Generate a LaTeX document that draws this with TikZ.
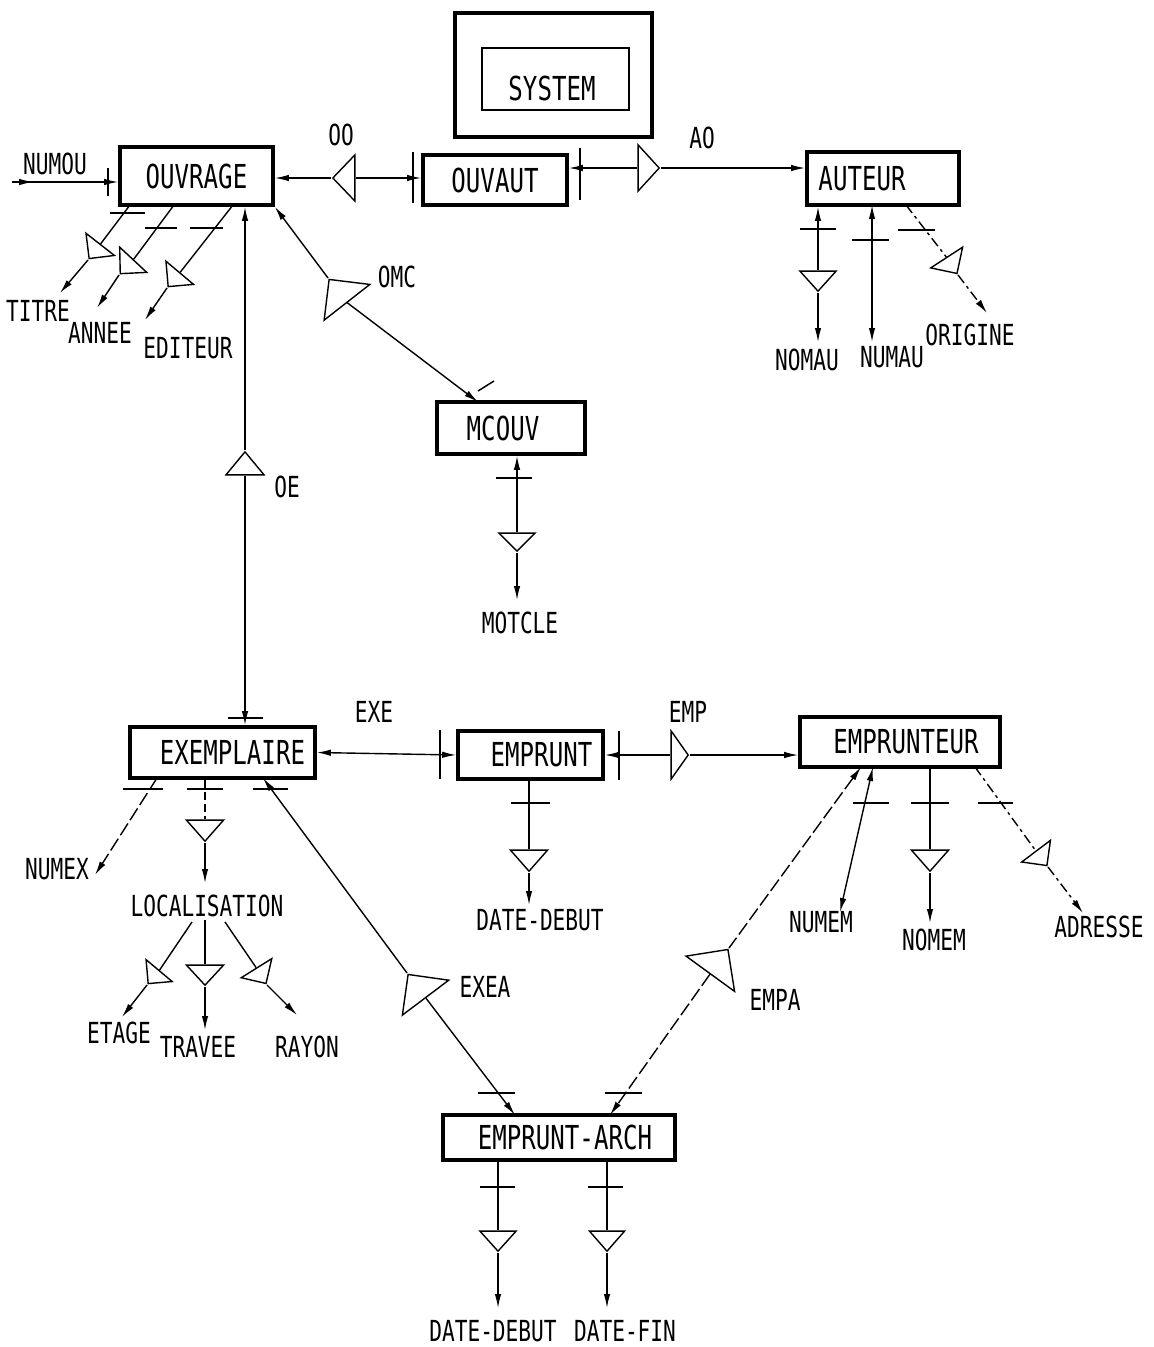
\documentclass[tikz,border=0pt]{standalone}
\usepackage{fontspec}
\newfontfamily\plotfont{DejaVu Sans Mono}[FakeStretch=0.73]
\usetikzlibrary{arrows.meta,shapes.geometric,calc,decorations.markings}
\begin{document}
\begin{tikzpicture}[x=1pt,y=-1pt,line width=1.4pt,
  >={Latex[length=14pt,width=6.5pt]},
  ent/.style={draw,line width=3.6pt,inner sep=0pt,font=\plotfont\fontsize{33}{36}\selectfont},
  lab/.style={inner sep=1pt,font=\plotfont\fontsize{29}{32}\selectfont},
  tri/.style n args={3}{draw,line width=1.4pt,isosceles triangle,isosceles triangle stretches,inner sep=0pt,minimum width=#2,minimum height=#3,rotate=#1,anchor=apex},
  bar/.style={line width=1.5pt},
  dsh/.style={dash pattern=on 14pt off 4pt},
  dshdot/.style={dash pattern=on 10pt off 4pt on 3pt off 4pt},
  middart/.style={postaction={decorate,decoration={markings,mark=at position #1 with {\arrow{>}}}}},
]
\fill[white] (0,0) rectangle (1154,1347);
\useasboundingbox (0,0) rectangle (1154,1347);

% SYSTEM
\node[draw,line width=4pt,minimum width=197,minimum height=124] (sysO) at (553.5,75) {};
\node[draw,line width=1.6pt,minimum width=147,minimum height=62] (sysI) at (555.5,79) {};
\node[inner sep=1pt,font=\plotfont\fontsize{33}{36}\selectfont] (sysT) at (552,88) {SYSTEM};

% entities
\node[ent,minimum width=153,minimum height=58] (ouvrage) at (196.5,176) {OUVRAGE};
\node[ent,minimum width=144,minimum height=50] (ouvaut) at (495,180) {OUVAUT};
\node[ent,minimum width=152,minimum height=53] (auteur) at (883,178.5) {AUTEUR\hspace*{42pt}};
\node[ent,minimum width=148,minimum height=52] (mcouv) at (511,428) {MCOUV\hspace*{16pt}};
\node[ent,minimum width=185,minimum height=51] (exemplaire) at (222.5,752.5) {\hspace*{20pt}EXEMPLAIRE};
\node[ent,minimum width=145,minimum height=48] (emprunt) at (530.5,755) {\hspace*{22pt}EMPRUNT};
\node[ent,minimum width=200,minimum height=50] (emprunteur) at (900,742) {\hspace*{12pt}EMPRUNTEUR};
\node[ent,minimum width=232,minimum height=45] (arch) at (559,1137.5) {\hspace*{12pt}EMPRUNT-ARCH};

% labels
\node[lab] (numou) at (55,164) {NUMOU};
\node[lab] (oo) at (341,135) {OO};
\node[lab] (ao) at (702,138) {AO};
\node[lab] (omc) at (397,277) {OMC};
\node[lab] (oe) at (287,487) {OE};
\node[lab] (motcle) at (520,623) {MOTCLE};
\node[lab] (titre) at (38,311) {TITRE};
\node[lab] (annee) at (100,333) {ANNEE};
\node[lab] (editeur) at (188,348) {EDITEUR};
\node[lab] (nomau) at (807,360) {NOMAU};
\node[lab] (numau) at (892,357) {NUMAU};
\node[lab] (origine) at (970,335) {ORIGINE};
\node[lab] (exe) at (374,712) {EXE};
\node[lab] (emp) at (688,712) {EMP};
\node[lab] (numex) at (57,869) {NUMEX};
\node[lab] (localisation) at (207,906) {LOCALISATION};
\node[lab] (etage) at (119,1033) {ETAGE};
\node[lab] (travee) at (198,1047) {TRAVEE};
\node[lab] (rayon) at (307,1047) {RAYON};
\node[lab] (datedebut) at (540,920) {DATE-DEBUT};
\node[lab] (numem) at (821,922) {NUMEM};
\node[lab] (nomem) at (934,940) {NOMEM};
\node[lab] (adresse) at (1099,927) {ADRESSE};
\node[lab] (exea) at (485,987) {EXEA};
\node[lab] (empa) at (775,1000) {EMPA};
\node[lab] (datedebutb) at (493,1331) {DATE-DEBUT};
\node[lab] (datefin) at (625,1331) {DATE-FIN};

% triangles
\node[tri={180}{46}{22}] (tOO) at (331,178) {};
\node[tri={0}{46}{21}] (tAO) at (661,168) {};
\node[tri={128}{58}{29}] (tOMC) at (328,278) {};
\node[tri={90}{38}{23}] (tOE) at (245,450) {};
\node[tri={0}{48}{17}] (tEMP) at (690,755) {};
\node[tri={127}{58}{29}] (tEXEA) at (407,973) {};
\node[tri={54}{60}{30}] (tEMPA) at (729,948) {};
\node[tri={232}{36}{18}] (tTITRE) at (88,260) {};
\node[tri={227}{37}{19}] (tANNEE) at (119,275) {};
\node[tri={230}{36}{18}] (tEDIT) at (167,288) {};
\node[tri={-90}{36}{20}] (tNOMAU) at (818,293) {};
\node[tri={-57}{38}{19}] (tORIG) at (958,275) {};
\node[tri={-90}{36}{18}] (tMOT) at (517,553) {};
\node[tri={-90}{37}{21}] (tLOC) at (205,843) {};
\node[tri={230}{34}{17}] (tETAGE) at (147,985) {};
\node[tri={-90}{37}{20}] (tTRAV) at (205,987) {};
\node[tri={-58}{36}{18}] (tRAYON) at (267,985) {};
\node[tri={-90}{37}{21}] (tDD) at (529,873) {};
\node[tri={-90}{37}{21}] (tNOMEM) at (930,873) {};
\node[tri={-53}{36}{18}] (tADR) at (1048,867) {};
\node[tri={-90}{36}{20}] (tDDb) at (498,1253) {};
\node[tri={-90}{35}{20}] (tDF) at (607,1253) {};

% free ends
\coordinate (numouS) at (12,182);
\coordinate (omcE) at (478,402);
\coordinate (exeaS) at (263,778);
\coordinate (exeaE) at (515,1115);
\coordinate (empaS) at (861,767);
\coordinate (empaE) at (610,1115);
\coordinate (titreS) at (130,205);
\coordinate (titreE) at (60,293);
\coordinate (anneeS) at (174,205);
\coordinate (anneeE) at (97,308);
\coordinate (editS) at (233,205);
\coordinate (editE) at (145,320);
\coordinate (nomauE) at (818,342);
\coordinate (numauS) at (872,205);
\coordinate (numauE) at (872,342);
\coordinate (origS) at (906,205);
\coordinate (origE) at (987,313);
\coordinate (motE) at (517,600);
\coordinate (numexS) at (157,778);
\coordinate (numexE) at (95,875);
\coordinate (locE) at (205,883);
\coordinate (etageS) at (192,922);
\coordinate (etageE) at (122,1017);
\coordinate (travS) at (205,920);
\coordinate (travE) at (205,1030);
\coordinate (rayS) at (225,922);
\coordinate (rayE) at (297,1015);
\coordinate (ddE) at (529,905);
\coordinate (numemS) at (873,767);
\coordinate (numemE) at (840,912);
\coordinate (nomemE) at (930,923);
\coordinate (adrS) at (975,767);
\coordinate (adrE) at (1083,913);
\coordinate (ddbE) at (498,1308);
\coordinate (dfE) at (607,1308);

% relationship connectors
\draw[->,middart=0.2] (numouS) -- (numouS -| ouvrage.west);
\draw[bar] (108,168) -- (108,196);

\draw[<-] (ouvrage.east |- tOO.apex) -- (tOO.apex);
\draw[->] (tOO.lower side) -- (tOO.lower side -| ouvaut.west);
\draw[bar] (413,152) -- (413,203);

\draw[<-] (tAO.lower side -| ouvaut.east) -- (tAO.lower side);
\draw[->] (tAO.apex) -- (tAO.apex -| auteur.west);
\draw[bar] (580,148) -- (580,200);

\draw[<-] (ouvrage.south east) -- (tOMC.apex);
\draw[->] (tOMC.lower side) -- (omcE);
\draw[bar] (478,391) -- (494,381);

\draw[<-] (tOE.apex |- ouvrage.south) -- (tOE.apex);
\draw[->] (tOE.lower side) -- (tOE.lower side |- exemplaire.north);
\draw[bar] (228,718) -- (263,718);

\draw[<->] (exemplaire.east) -- (emprunt.west);
\draw[bar] (440,730) -- (440,779);

\draw[<-] (emprunt.east |- tEMP.lower side) -- (tEMP.lower side);
\draw[->] (tEMP.apex) -- (tEMP.apex -| emprunteur.west);
\draw[bar] (619,731) -- (619,780);

\draw[<-] (exeaS) -- (tEXEA.apex);
\draw[->] (tEXEA.lower side) -- (exeaE);
\draw[bar] (253,789) -- (288,789);
\draw[bar] (478,1093) -- (515,1093);

\draw[<-,dsh] (empaS) -- (tEMPA.apex);
\draw[->,dsh] (tEMPA.lower side) -- (empaE);
\draw[bar] (605,1093) -- (642,1093);

% OUVRAGE attributes
\draw (titreS) -- (tTITRE.lower side);
\draw[->] (tTITRE.apex) -- (titreE);
\draw[bar] (110,213) -- (145,213);
\draw (anneeS) -- (tANNEE.lower side);
\draw[->] (tANNEE.apex) -- (anneeE);
\draw[bar] (145,228) -- (177,228);
\draw (editS) -- (tEDIT.lower side);
\draw[->] (tEDIT.apex) -- (editE);
\draw[bar] (190,228) -- (223,228);

% AUTEUR attributes
\draw[<-] (tNOMAU.lower side |- auteur.south) -- (tNOMAU.lower side);
\draw[->] (tNOMAU.apex) -- (nomauE);
\draw[bar] (800,229) -- (836,229);
\draw[<->] (numauS) -- (numauE);
\draw[bar] (852,240) -- (889,240);
\draw[dshdot] (origS) -- (tORIG.lower side);
\draw[->,dshdot] (tORIG.apex) -- (origE);
\draw[bar] (898,230) -- (935,230);

% MCOUV attribute
\draw[<-] (tMOT.lower side |- mcouv.south) -- (tMOT.lower side);
\draw[->] (tMOT.apex) -- (motE);
\draw[bar] (496,478) -- (532,478);

% EXEMPLAIRE attributes
\draw[->,dsh] (numexS) -- (numexE);
\draw[bar] (123,789) -- (163,789);
\draw[dash pattern=on 8pt off 4pt] (tLOC.lower side |- exemplaire.south) -- (tLOC.lower side);
\draw[->] (tLOC.apex) -- (locE);
\draw[bar] (187,789) -- (223,789);
\draw (etageS) -- (tETAGE.lower side);
\draw[->] (tETAGE.apex) -- (etageE);
\draw (travS) -- (tTRAV.lower side);
\draw[->] (tTRAV.apex) -- (travE);
\draw (rayS) -- (tRAYON.lower side);
\draw[->] (tRAYON.apex) -- (rayE);

% EMPRUNT attribute
\draw (tDD.lower side |- emprunt.south) -- (tDD.lower side);
\draw[->] (tDD.apex) -- (ddE);
\draw[bar] (511,803) -- (550,803);

% EMPRUNTEUR attributes
\draw[<->] (numemS) -- (numemE);
\draw[bar] (853,803) -- (889,803);
\draw (tNOMEM.lower side |- emprunteur.south) -- (tNOMEM.lower side);
\draw[->] (tNOMEM.apex) -- (nomemE);
\draw[bar] (911,803) -- (949,803);
\draw[dshdot] (adrS) -- (tADR.lower side);
\draw[->,dshdot] (tADR.apex) -- (adrE);
\draw[bar] (978,803) -- (1013,803);

% EMPRUNT-ARCH attributes
\draw (tDDb.lower side |- arch.south) -- (tDDb.lower side);
\draw[->] (tDDb.apex) -- (ddbE);
\draw[bar] (480,1187) -- (515,1187);
\draw (tDF.lower side |- arch.south) -- (tDF.lower side);
\draw[->] (tDF.apex) -- (dfE);
\draw[bar] (588,1187) -- (623,1187);
\end{tikzpicture}
\end{document}
